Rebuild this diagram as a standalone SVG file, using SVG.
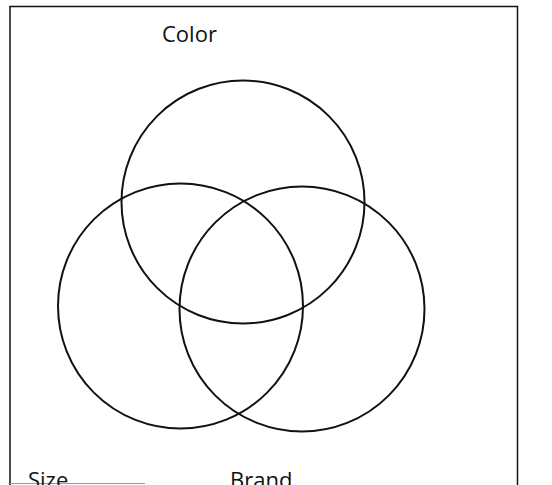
<svg xmlns="http://www.w3.org/2000/svg" width="552" height="485" viewBox="0 0 552 485">
<style>
.frame{fill:none;stroke:#111;stroke-width:1.5}
.ring{fill:none;stroke:#111;stroke-width:2}
.lbl{font-family:"Open Sans","Liberation Sans",sans-serif;font-size:22px;fill:#111}
</style>
<rect width="552" height="485" fill="#fff"/>
<g id="frame">
<path class="frame" d="M10 490 V6.5 H517.5 V490"/>
<line x1="10" y1="483.5" x2="145" y2="483.5" stroke="#999" stroke-width="1.2"/>
</g>
<g id="color">
<circle class="ring" cx="243" cy="202" r="121.5"/>
<text class="lbl" x="162" y="42">Color</text>
</g>
<g id="size">
<circle class="ring" cx="180.5" cy="306" r="122.5"/>
<text class="lbl" x="28" y="488">Size</text>
</g>
<g id="brand">
<circle class="ring" cx="302" cy="309" r="122.5"/>
<text class="lbl" x="230" y="488">Brand</text>
</g>
<g id="connectors"/>
</svg>
